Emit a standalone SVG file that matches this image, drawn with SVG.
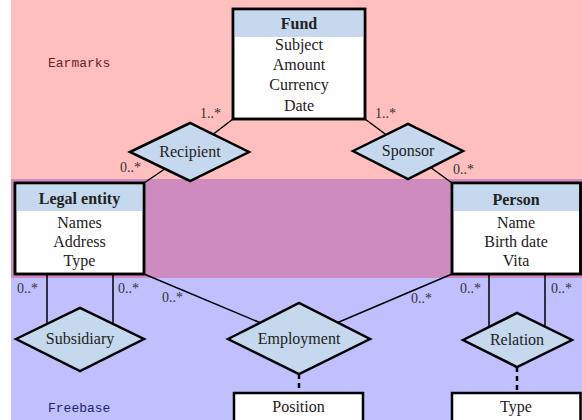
<svg xmlns="http://www.w3.org/2000/svg" width="582" height="420" viewBox="0 0 582 420">
  <style>
    .t { font-family: "Liberation Serif", "Times New Roman", serif; font-size: 16px; fill: #222; text-anchor: middle; }
    .b { font-weight: bold; }
    .m { font-family: "Liberation Serif", "Times New Roman", serif; font-size: 14px; fill: #333; }
    .ent { fill: #fff; stroke: #000; stroke-width: 2.5; }
    .hdr { fill: #c5d8ee; }
    .rel { fill: #c5d8ee; stroke: #000; stroke-width: 2.5; stroke-linejoin: miter; }
    .ln { stroke: #000; stroke-width: 1.5; fill: none; }
    .dash { stroke: #000; stroke-width: 2.5; stroke-dasharray: 5 4; }
    .zone { font-family: "Liberation Mono", "Courier New", monospace; font-size: 13px; }
  </style>

  <!-- zones -->
  <g id="zones">
    <rect x="11" y="0" width="571" height="179" fill="#ffbfbf"/>
    <rect x="11" y="179" width="571" height="99" fill="#cd8bbf"/>
    <rect x="11" y="278" width="571" height="142" fill="#c0c0ff"/>
    <text class="zone" x="48" y="67" fill="#6e1e1e">Earmarks</text>
    <text class="zone" x="48" y="412" fill="#1e1e6e">Freebase</text>
  </g>

  <!-- connectors -->
  <g id="connectors">
    <line class="ln" x1="233" y1="119" x2="190" y2="152"/>
    <line class="ln" x1="144" y1="183" x2="190" y2="152"/>
    <line class="ln" x1="365" y1="119" x2="408" y2="151"/>
    <line class="ln" x1="452" y1="183" x2="408" y2="151"/>
    <line class="ln" x1="47" y1="274" x2="47" y2="330"/>
    <line class="ln" x1="113" y1="274" x2="113" y2="330"/>
    <line class="ln" x1="144" y1="274" x2="299" y2="339"/>
    <line class="ln" x1="452" y1="274" x2="299" y2="339"/>
    <line class="ln" x1="489" y1="274" x2="489" y2="330"/>
    <line class="ln" x1="545" y1="274" x2="545" y2="330"/>
    <line class="dash" x1="299" y1="374" x2="299" y2="393"/>
    <line class="dash" x1="517" y1="367" x2="517" y2="393"/>
    <text class="m" x="200" y="118">1..*</text>
    <text class="m" x="120" y="172">0..*</text>
    <text class="m" x="375" y="118">1..*</text>
    <text class="m" x="453" y="174">0..*</text>
    <text class="m" x="17" y="293">0..*</text>
    <text class="m" x="118" y="293">0..*</text>
    <text class="m" x="162" y="302">0..*</text>
    <text class="m" x="411" y="303">0..*</text>
    <text class="m" x="460" y="293">0..*</text>
    <text class="m" x="551" y="293">0..*</text>
  </g>

  <!-- entities -->
  <g id="fund">
    <rect class="ent" x="233" y="9" width="132" height="110"/>
    <rect class="hdr" x="234.5" y="10.5" width="129" height="26.5"/>
    <rect x="233" y="9" width="132" height="110" fill="none" stroke="#000" stroke-width="2.5"/>
    <text class="t b" x="299" y="29">Fund</text>
    <text class="t" x="299" y="50">Subject</text>
    <text class="t" x="299" y="70">Amount</text>
    <text class="t" x="299" y="90">Currency</text>
    <text class="t" x="299" y="111">Date</text>
  </g>

  <g id="legal-entity">
    <rect class="ent" x="15" y="183" width="129" height="91"/>
    <rect class="hdr" x="16.5" y="184.5" width="126" height="26.5"/>
    <rect x="15" y="183" width="129" height="91" fill="none" stroke="#000" stroke-width="2.5"/>
    <text class="t b" x="79.5" y="204">Legal entity</text>
    <text class="t" x="79.5" y="228">Names</text>
    <text class="t" x="79.5" y="247">Address</text>
    <text class="t" x="79.5" y="266">Type</text>
  </g>

  <g id="person">
    <rect class="ent" x="452" y="183" width="128.5" height="91"/>
    <rect class="hdr" x="453.5" y="184.5" width="125.5" height="26.5"/>
    <rect x="452" y="183" width="128.5" height="91" fill="none" stroke="#000" stroke-width="2.5"/>
    <text class="t b" x="516" y="205">Person</text>
    <text class="t" x="516" y="228">Name</text>
    <text class="t" x="516" y="247">Birth date</text>
    <text class="t" x="516" y="266">Vita</text>
  </g>

  <g id="position">
    <rect class="ent" x="234" y="393" width="129" height="40"/>
    <text class="t" x="298.5" y="412">Position</text>
  </g>

  <g id="type">
    <rect class="ent" x="452" y="393" width="128.5" height="40"/>
    <text class="t" x="516" y="412">Type</text>
  </g>

  <!-- relationships -->
  <g id="recipient">
    <polygon class="rel" points="130,152 190,123 249,152 190,181"/>
    <text class="t" x="190" y="157">Recipient</text>
  </g>

  <g id="sponsor">
    <polygon class="rel" points="353,151 408,124 463,151 408,179"/>
    <text class="t" x="408" y="156">Sponsor</text>
  </g>

  <g id="subsidiary">
    <polygon class="rel" points="16,339 80,308 144,339 80,371"/>
    <text class="t" x="80" y="344">Subsidiary</text>
  </g>

  <g id="employment">
    <polygon class="rel" points="228,339 299,303 370,339 299,374"/>
    <text class="t" x="299" y="344">Employment</text>
  </g>

  <g id="relation">
    <polygon class="rel" points="463,340 517,313 572,340 517,367"/>
    <text class="t" x="517" y="345">Relation</text>
  </g>
</svg>
